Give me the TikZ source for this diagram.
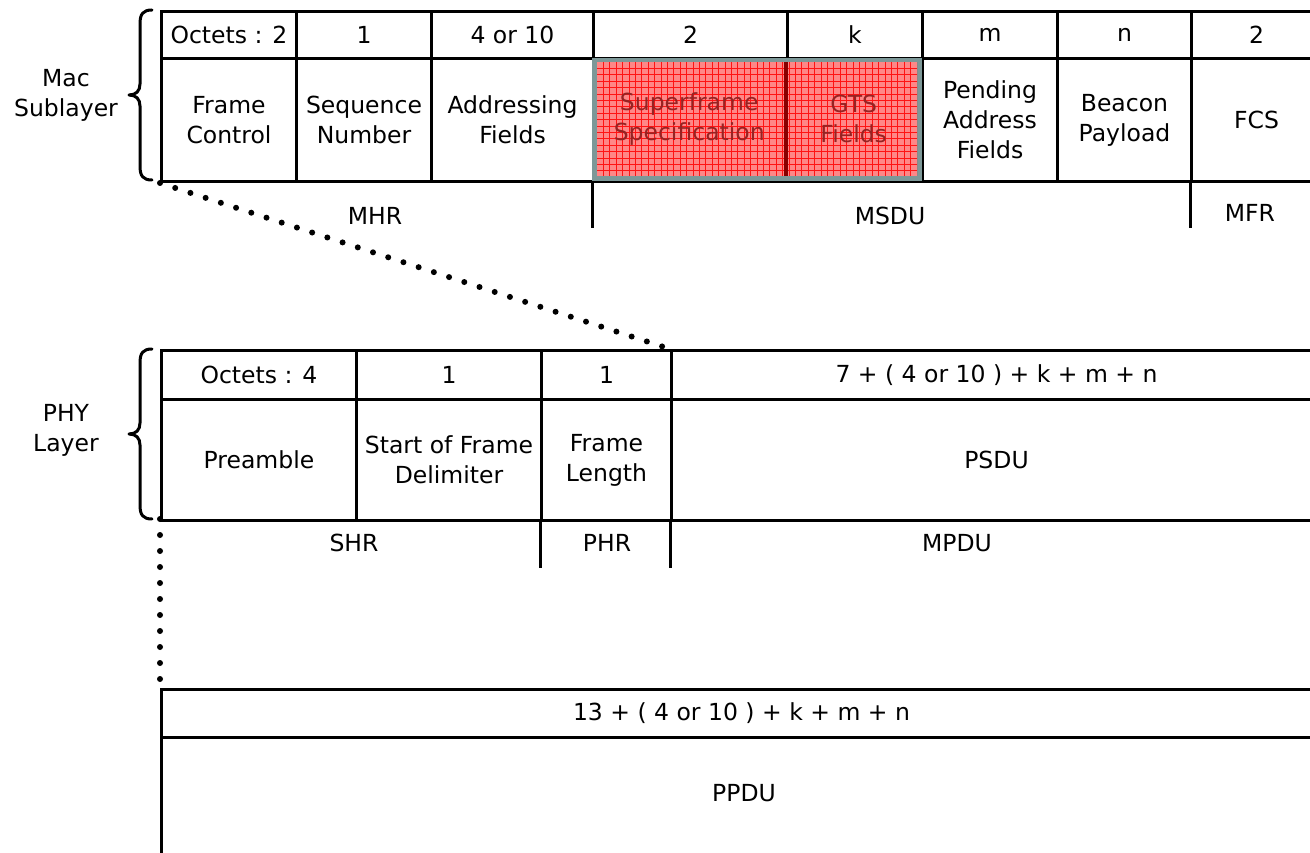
\documentclass[tikz,border=0pt]{standalone}
\usepackage{fontspec}
\setmainfont{DejaVu Sans}
\newcommand\lblfont{\fontsize{23.5}{30}\selectfont}
\definecolor{bordergray}{RGB}{125,152,152}
\definecolor{pinkfill}{RGB}{255,135,135}
\definecolor{gridred}{RGB}{255,20,20}
\definecolor{darkred}{RGB}{135,0,0}
\definecolor{redtext}{RGB}{150,35,35}
\begin{document}
\begin{tikzpicture}[x=1pt,y=-1pt,
  cell/.style={draw, line width=3pt, anchor=north west, inner sep=0pt, align=center, font=\lblfont},
  txtcell/.style={anchor=north west, inner sep=0pt, align=center, font=\lblfont, text=redtext},
  lbl/.style={inner sep=0pt, align=center, font=\lblfont},
  sep/.style={line width=3pt},
  bracepath/.style={line width=3pt, line cap=round, line join=round},
  dotline/.style={line width=6pt, line cap=round, dash pattern=on 0pt off 16pt}]
\clip (0,0) rectangle (1310,853);
\fill[white] (0,0) rectangle (1310,853);

% ---------- MAC sublayer ----------
\node[cell, minimum width=135pt, minimum height=47pt] (h1) at (160,10) {Octets : 2};
\node[cell, minimum width=135pt, minimum height=47pt] (h2) at (295,10) {1};
\node[cell, minimum width=162pt, minimum height=47pt] (h3) at (430,10) {4 or 10};
\node[cell, minimum width=194pt, minimum height=47pt] (h4) at (592,10) {2};
\node[cell, minimum width=135pt, minimum height=47pt] (h5) at (786,10) {k};
\node[cell, minimum width=135pt, minimum height=47pt] (h6) at (921,10) {m};
\node[cell, minimum width=134pt, minimum height=47pt] (h7) at (1056,10) {n};
\node[cell, minimum width=130pt, minimum height=47pt] (h8) at (1190,10) {2};

\node[cell, minimum width=135pt, minimum height=123pt] (fc) at (160,57) {Frame\\Control};
\node[cell, minimum width=135pt, minimum height=123pt] (sn) at (295,57) {Sequence\\Number};
\node[cell, minimum width=162pt, minimum height=123pt] (af) at (430,57) {Addressing\\Fields};
\node[cell, minimum width=194pt, minimum height=123pt] (ssb) at (592,57) {};
\node[cell, minimum width=135pt, minimum height=123pt] (gtsb) at (786,57) {};
\node[cell, minimum width=135pt, minimum height=123pt] (pa) at (921,57) {Pending\\Address\\Fields};
\node[cell, minimum width=134pt, minimum height=123pt] (bp) at (1056,57) {Beacon\\Payload};
\node[cell, minimum width=130pt, minimum height=123pt] (fcs) at (1190,57) {FCS};

% highlighted region
\fill[bordergray] (592,58) rectangle (922,181);
\fill[pinkfill] (597,62) rectangle (917,176);
\begin{scope}
  \clip (597,62) rectangle (917,176);
  \foreach \i in {1,...,50} \draw[gridred, line width=0.8pt] ({597+6.4*\i},62) -- ++(0,114);
  \foreach \j in {1,...,18} \draw[gridred, line width=0.8pt] (597,{62+6.4*\j}) -- ++(320,0);
\end{scope}
\draw[darkred, line width=3.5pt] (786,62) -- (786,176);
\node[txtcell, minimum width=194pt, minimum height=123pt] (ss) at (592,57) {Superframe\\Specification};
\node[txtcell, minimum width=135pt, minimum height=123pt] (gts) at (786,57) {GTS\\Fields};

% sub-labels
\coordinate (m1) at (592,228);
\coordinate (m2) at (1190,228);
\draw[sep] (ssb.south west) -- (m1);
\draw[sep] (fcs.south west) -- (m2);
\node[lbl] (mhr) at (375,216) {MHR};
\node[lbl] (msdu) at (890,216) {MSDU};
\node[lbl] (mfr) at (1250,213) {MFR};

% brace + label
\draw[bracepath] (152,10) .. controls (143,10) and (140,14) .. (140,24)
  -- (140,84) .. controls (140,91) and (136,95) .. (129,95)
  .. controls (136,95) and (140,99) .. (140,106)
  -- (140,166) .. controls (140,176) and (143,180) .. (152,180);
\node[lbl] (mac) at (66,95) {Mac\\Sublayer};

% ---------- PHY layer ----------
\node[cell, minimum width=195pt, minimum height=49pt] (p1) at (160,349) {Octets : 4};
\node[cell, minimum width=185pt, minimum height=49pt] (p2) at (355,349) {1};
\node[cell, minimum width=130pt, minimum height=49pt] (p3) at (540,349) {1};
\node[cell, minimum width=650pt, minimum height=49pt] (psduh) at (670,349) {7 + ( 4 or 10 ) + k + m + n};

\node[cell, minimum width=195pt, minimum height=121pt] (pre) at (160,398) {Preamble};
\node[cell, minimum width=185pt, minimum height=121pt] (sfd) at (355,398) {Start of Frame\\Delimiter};
\node[cell, minimum width=130pt, minimum height=121pt] (fl) at (540,398) {Frame\\Length};
\node[cell, minimum width=650pt, minimum height=121pt] (psdu) at (670,398) {PSDU};

\coordinate (q1) at (540,568);
\coordinate (q2) at (670,568);
\draw[sep] (fl.south west) -- (q1);
\draw[sep] (psdu.south west) -- (q2);
\node[lbl] (shr) at (354,543) {SHR};
\node[lbl] (phr) at (607,543) {PHR};
\node[lbl] (mpdu) at (957,543) {MPDU};

\draw[bracepath] (152,349) .. controls (143,349) and (140,353) .. (140,363)
  -- (140,423) .. controls (140,430) and (136,434) .. (129,434)
  .. controls (136,434) and (140,438) .. (140,445)
  -- (140,505) .. controls (140,515) and (143,519) .. (152,519);
\node[lbl] (phy) at (66,430) {PHY\\Layer};

% ---------- PPDU ----------
\node[cell, minimum width=1160pt, minimum height=48pt] (ppduh) at (160,688) {13 + ( 4 or 10 ) + k + m + n};
\node[cell, minimum width=1160pt, minimum height=140pt] (ppdu) at (160,736) {};
\node[lbl] (ppdutxt) at (744,793) {PPDU};

% ---------- dotted connectors ----------
\draw[dotline, dash phase=0pt] (fc.south west) -- (psduh.north west);
\coordinate (v0) at (160,519);
\coordinate (v1) at (160,680);
\draw[dotline] (v0) -- (v1);
\end{tikzpicture}
\end{document}
